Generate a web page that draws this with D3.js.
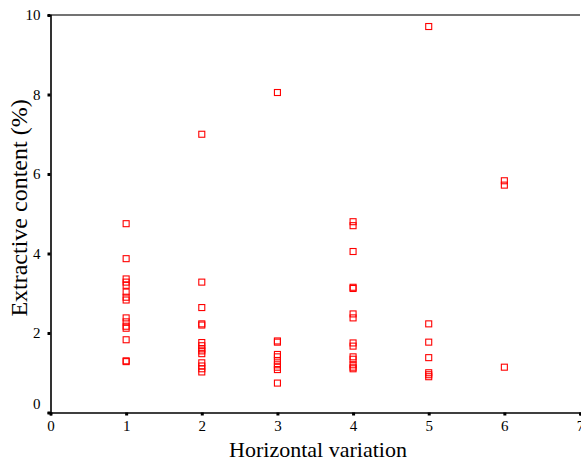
<!DOCTYPE html>
<html><head><meta charset="utf-8">
<script src="https://cdn.jsdelivr.net/npm/d3@7"></script>
<style>body{margin:0;background:#fff}svg{display:block}</style>
</head><body>
<script>
const groups = [1, 2, 3, 4, 5, 6];
const values = [
  [4.75, 3.87, 3.36, 3.28, 3.2, 3.03, 2.9, 2.83, 2.38, 2.28, 2.17, 2.12, 1.83, 1.3, 1.28],
  [7.0, 3.28, 2.64, 2.23, 2.2, 1.76, 1.68, 1.6, 1.55, 1.48, 1.25, 1.17, 1.1, 1.02],
  [8.05, 1.8, 1.77, 1.46, 1.4, 1.3, 1.2, 1.14, 1.08, 0.74],
  [4.8, 4.7, 4.05, 3.15, 3.12, 2.48, 2.38, 1.75, 1.67, 1.4, 1.34, 1.2, 1.14, 1.1],
  [9.71, 2.23, 1.77, 1.38, 1.0, 0.95, 0.9],
  [5.83, 5.72, 1.14]
];
const xTicks = [0, 1, 2, 3, 4, 5, 6, 7];
const yTicks = [0, 2, 4, 6, 8, 10];
const xTitle = "Horizontal variation";
const yTitle = "Extractive content (%)";

const W = 581, H = 463;
const FONT = "'Liberation Serif', 'Times New Roman', serif";
const svg = d3.select("body").append("svg").attr("width", W).attr("height", H)
  .attr("font-family", FONT);

const x = d3.scaleLinear().domain([0, 7]).range([50.5, 580]);
const y = d3.scaleLinear().domain([0, 10]).range([412.5, 15]);

// top frame line
svg.append("line").attr("x1", x(0)).attr("x2", x(7)).attr("y1", y(10)).attr("y2", y(10))
  .attr("stroke", "#444").attr("stroke-width", 1.5);

// axes
const xAxis = svg.append("g").attr("transform", `translate(0,${y(0)})`)
  .call(d3.axisBottom(x).tickValues(xTicks).tickSize(3).tickPadding(5).tickFormat(d3.format("d")));
const yAxis = svg.append("g").attr("transform", `translate(${x(0)},0)`)
  .call(d3.axisLeft(y).tickValues(yTicks).tickSize(3).tickPadding(7).tickFormat(d3.format("d")));
[xAxis, yAxis].forEach(g => {
  g.attr("font-family", FONT).attr("font-size", 15);
  g.select(".domain").attr("stroke", "#000").attr("stroke-width", 1.6);
  g.selectAll(".tick line").attr("stroke", "#000").attr("stroke-width", 3);
  g.selectAll(".tick text").attr("fill", "#000");
});
yAxis.selectAll(".tick text").filter(d => d === 0).attr("dy", "-0.3em");

// points
const pts = [];
groups.forEach((g, i) => values[i].forEach(v => pts.push({g, v})));
svg.append("g").selectAll("rect").data(pts).join("rect")
  .attr("x", d => x(d.g) - 3).attr("y", d => y(d.v) - 3)
  .attr("width", 6).attr("height", 6)
  .attr("fill", "none").attr("stroke", "#ff0000").attr("stroke-width", 1.1);

// titles
svg.append("text").attr("x", 318).attr("y", 457).attr("text-anchor", "middle")
  .attr("font-size", 22).text(xTitle);
svg.append("text").attr("transform", `translate(27,${208}) rotate(-90)`)
  .attr("text-anchor", "middle").attr("font-size", 24).text(yTitle);
</script>
</body></html>
